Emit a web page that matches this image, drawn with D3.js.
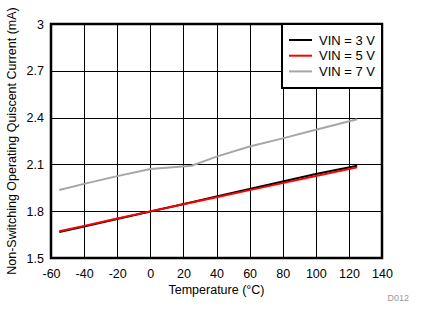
<!DOCTYPE html>
<html><head><meta charset="utf-8">
<script src="https://cdn.jsdelivr.net/npm/d3@7"></script>
<style>body{margin:0;background:#fff}svg{display:block}text{font-family:"Liberation Sans",Arial,sans-serif}</style>
</head><body><svg id="c" width="426" height="324"></svg>
<script>
const temps = [-55, -40, -20, 0, 25, 40, 60, 80, 100, 125];
const vin3 = [1.666, 1.702, 1.750, 1.798, 1.858, 1.894, 1.942, 1.990, 2.038, 2.092];
const vin5 = [1.671, 1.706, 1.753, 1.799, 1.856, 1.890, 1.935, 1.980, 2.025, 2.081];
const vin7 = [1.936, 1.975, 2.025, 2.071, 2.092, 2.150, 2.215, 2.267, 2.322, 2.389];
const seriesNames = ["VIN = 3 V", "VIN = 5 V", "VIN = 7 V"];
const seriesColors = ["#000000", "#ff0000", "#a6a6a6"];
const xTicks = [-60, -40, -20, 0, 20, 40, 60, 80, 100, 120, 140];
const yTicks = [1.5, 1.8, 2.1, 2.4, 2.7, 3];

const svg = d3.select("#c");
const L = 51, R = 382, T = 24, B = 258;
const x = d3.scaleLinear().domain([-60, 140]).range([L, R]);
const y = d3.scaleLinear().domain([1.5, 3]).range([B, T]);

// grid
svg.append("g").selectAll("line").data(xTicks).join("line")
  .attr("x1", d => x(d) + 0.5).attr("x2", d => x(d) + 0.5).attr("y1", T).attr("y2", B)
  .attr("stroke", "#000").attr("stroke-width", 1).attr("shape-rendering", "crispEdges");
svg.append("g").selectAll("line").data(yTicks).join("line")
  .attr("y1", d => Math.round(y(d)) + 0.5).attr("y2", d => Math.round(y(d)) + 0.5).attr("x1", L).attr("x2", R)
  .attr("stroke", "#000").attr("stroke-width", 1).attr("shape-rendering", "crispEdges");

// axes labels via d3 axes
const xAxis = svg.append("g").attr("transform", `translate(0,${B})`)
  .call(d3.axisBottom(x).tickValues(xTicks).tickSize(0).tickPadding(11).tickFormat(d => String(d)));
const yAxis = svg.append("g").attr("transform", `translate(${L},0)`)
  .call(d3.axisLeft(y).tickValues(yTicks).tickSize(0).tickPadding(7).tickFormat(d => String(d)));
[xAxis, yAxis].forEach(a => {
  a.select(".domain").remove();
  a.selectAll("text").attr("font-size", 12.5).attr("fill", "#000").attr("font-family", '"Liberation Sans",Arial,sans-serif');
});

// lines
const allSeries = [vin3, vin5, vin7];
const line = d3.line().x((d, i) => x(temps[i])).y(d => y(d));
[2, 0, 1].forEach(k => {
  svg.append("path").datum(allSeries[k]).attr("d", line)
    .attr("fill", "none").attr("stroke", seriesColors[k]).attr("stroke-width", 2);
});

// plot frame
svg.append("rect").attr("x", L).attr("y", T).attr("width", R - L).attr("height", B - T)
  .attr("fill", "none").attr("stroke", "#000").attr("stroke-width", 2.5);

// legend
const lg = svg.append("g");
lg.append("rect").attr("x", 282).attr("y", T).attr("width", R - 282).attr("height", 64)
  .attr("fill", "#fff").attr("stroke", "#000").attr("stroke-width", 2);
seriesNames.forEach((n, i) => {
  const yy = 40 + i * 15.7;
  lg.append("line").attr("x1", 289).attr("x2", 312).attr("y1", yy).attr("y2", yy)
    .attr("stroke", seriesColors[i]).attr("stroke-width", 2);
  lg.append("text").attr("x", 319).attr("y", yy + 4.5).attr("font-size", 13).text(n);
});

// titles
svg.append("text").attr("x", (L + R) / 2).attr("y", 294).attr("text-anchor", "middle")
  .attr("font-size", 12.5).text("Temperature (°C)");
svg.append("text").attr("transform", `translate(16,${(T + B) / 2}) rotate(-90)`).attr("text-anchor", "middle")
  .attr("font-size", 12.5).text("Non-Switching Operating Quiscent Current (mA)");
svg.append("text").attr("x", 409).attr("y", 301).attr("text-anchor", "end")
  .attr("font-size", 9).attr("fill", "#999").text("D012");
</script></body></html>
